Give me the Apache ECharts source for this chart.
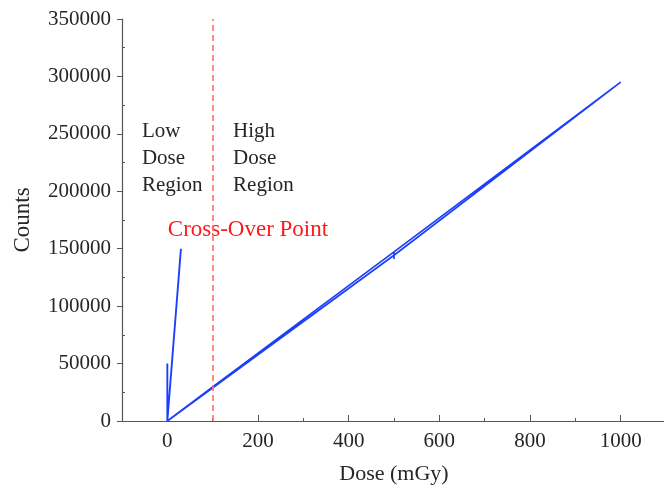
<!DOCTYPE html>
<html>
<head>
<meta charset="utf-8">
<script src="https://cdn.jsdelivr.net/npm/echarts@6.0.0/dist/echarts.min.js"></script>
<style>
  html, body { margin: 0; padding: 0; background: #fff; }
  #chart { width: 664px; height: 491px; }
</style>
</head>
<body>
<div id="chart"></div>
<script>
// values
const lowDose = [[0, 50000], [0, 0], [30, 150000]];
const highDose = [
  [0, 0], [100, 29700], [500, 147300], [500, 141000], [500, 147300], [1000, 295000],
  [1000, 293600], [500, 144300], [0, 0]
];
const crossOverDose = 100;
const xMajorTicks = [0, 200, 400, 600, 800, 1000];
const xMinorTicks = [100, 300, 500, 700, 900];
const yMinorTicks = [25000, 75000, 125000, 175000, 225000, 275000, 325000];
const notes = [
  { text: 'Low\nDose\nRegion', x: -56, y: 264000, color: '#262626', size: 21 },
  { text: 'High\nDose\nRegion', x: 145, y: 264000, color: '#262626', size: 21 },
  { text: 'Cross-Over Point', x: 1, y: 178000, color: '#ff1a1a', size: 23 }
];

const font = '"Liberation Serif", "Times New Roman", serif';
const axisColor = '#555';
const textColor = '#262626';
const blue = '#1c40fa';

const chart = echarts.init(document.getElementById('chart'));

chart.setOption({
  animation: false,
  backgroundColor: '#fff',
  grid: { left: 122, right: -2, top: 19, bottom: 70, containLabel: false, outerBoundsMode: 'none' },
  xAxis: [
    {
      type: 'value', min: -100, max: 1100,
      name: 'Dose (mGy)', nameLocation: 'middle', nameGap: 42,
      nameTextStyle: { fontFamily: font, fontSize: 22, color: textColor },
      axisLine: { show: true, onZero: false, lineStyle: { color: axisColor, width: 1.2 } },
      axisTick: { show: true, inside: true, length: 6, customValues: xMajorTicks, lineStyle: { color: axisColor } },
      axisLabel: { customValues: xMajorTicks, margin: 10, fontFamily: font, fontSize: 21, color: textColor, formatter: v => String(v) },
      splitLine: { show: false }
    },
    {
      type: 'value', min: -100, max: 1100, position: 'bottom',
      axisLine: { show: false, onZero: false },
      axisTick: { show: true, inside: true, length: 3, customValues: xMinorTicks, lineStyle: { color: axisColor } },
      axisLabel: { show: false },
      splitLine: { show: false }
    }
  ],
  yAxis: [
    {
      type: 'value', min: 0, max: 350000, interval: 50000,
      name: 'Counts', nameLocation: 'middle', nameGap: 88, nameRotate: 90,
      nameTextStyle: { fontFamily: font, fontSize: 23, color: textColor },
      axisLine: { show: true, onZero: false, lineStyle: { color: axisColor, width: 1.2 } },
      axisTick: { show: true, inside: false, length: 5, lineStyle: { color: axisColor } },
      axisLabel: { margin: 11, fontFamily: font, fontSize: 21, color: textColor, formatter: v => String(v) },
      splitLine: { show: false }
    },
    {
      type: 'value', min: 0, max: 350000, position: 'left',
      axisLine: { show: false, onZero: false },
      axisTick: { show: true, inside: true, length: 3, customValues: yMinorTicks, lineStyle: { color: axisColor } },
      axisLabel: { show: false },
      splitLine: { show: false }
    }
  ],
  series: [
    {
      name: 'High dose', type: 'line', data: highDose,
      showSymbol: false, symbol: 'none',
      lineStyle: { color: blue, width: 1.7 },
      markLine: {
        silent: true, symbol: 'none', label: { show: false },
        lineStyle: { color: '#ff6b6b', type: [6, 4], width: 1.6 },
        data: [{ xAxis: crossOverDose }]
      }
    },
    {
      name: 'Low dose', type: 'line', data: lowDose,
      showSymbol: false, symbol: 'none',
      lineStyle: { color: blue, width: 1.9 }
    },
    {
      name: 'notes', type: 'scatter', symbolSize: 0,
      itemStyle: { color: 'transparent', opacity: 1 },
      data: notes.map(n => ({
        value: [n.x, n.y], name: n.text,
        label: { color: n.color, fontSize: n.size }
      })),
      label: {
        show: true, position: [0, 0], align: 'left', verticalAlign: 'top',
        formatter: p => p.name,
        fontFamily: font, fontSize: 21, lineHeight: 27, opacity: 1
      }
    }
  ]
});
</script>
</body>
</html>
